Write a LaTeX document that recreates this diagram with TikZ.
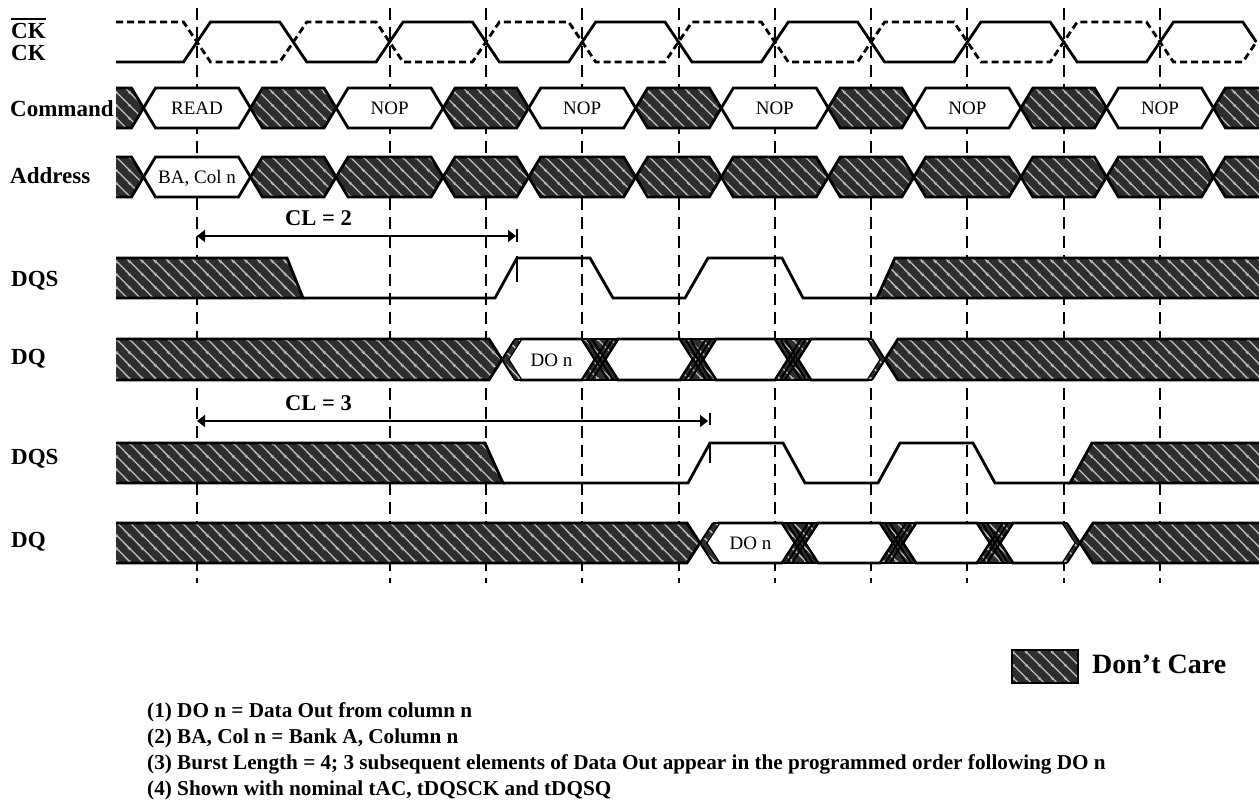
\documentclass[tikz,border=0pt]{standalone}
\usepackage{fontspec}
\setmainfont{Liberation Serif}
\usetikzlibrary{patterns.meta,arrows.meta}

\tikzdeclarepattern{
  name=dcare,
  type=colored,
  bounding box={(0pt,0pt) and (13pt,13pt)},
  tile size={(13pt,13pt)},
  code={
    \fill[black!82] (-1pt,-1pt) rectangle (14pt,14pt);
    \draw[black!25, line width=1.4pt] (-1pt,14pt) -- (14pt,-1pt);
    \draw[black!25, line width=1.4pt] (-2pt,2pt) -- (2pt,-2pt);
    \draw[black!25, line width=1.4pt] (11pt,15pt) -- (15pt,11pt);
  }
}

% hexagonal bus cell: style, left point, right point, top, bottom, slant
\newcommand\hexcell[6]{%
  \path[#1] (#2,{(#4+#5)/2}) -- ({#2+#6},#4) -- ({#3-#6},#4) -- (#3,{(#4+#5)/2})
    -- ({#3-#6},#5) -- ({#2+#6},#5) -- cycle;}
% skewed middle transition group: X, top, bottom
\newcommand\midgrp[3]{%
  \path[pattern=dcare] ({#1-13},#2) -- ({#1+23},#2) -- ({#1+10},{(#2+#3)/2}) -- ({#1+23},#3)
    -- ({#1-13},#3) -- (#1,{(#2+#3)/2}) -- cycle;
  \draw[sig] ({#1-13},#2) -- ({#1+23},#2) ({#1-13},#3) -- ({#1+23},#3);
  \foreach \o in {0,5,10} {\draw[thinsig] ({#1+\o-13},#2) -- ({#1+\o+13},#3) ({#1+\o-13},#3) -- ({#1+\o+13},#2);}}
% first transition group (hatched -> data): X, top, bottom
\newcommand\firstgrp[3]{%
  \path[hatch] (116,#2) -- ({#1-13},#2) -- (#1,{(#2+#3)/2}) -- ({#1-13},#3) -- (116,#3);
  \path[pattern=dcare] ({#1+13},#2) -- ({#1+19},#2) -- ({#1+6},{(#2+#3)/2}) -- ({#1+19},#3)
    -- ({#1+13},#3) -- (#1,{(#2+#3)/2}) -- cycle;
  \draw[thinsig] ({#1+13},#2) -- (#1,{(#2+#3)/2}) -- ({#1+13},#3);
  \draw[sig] ({#1+13},#2) -- ({#1+19},#2) ({#1+13},#3) -- ({#1+19},#3);}
% last transition group (data -> hatched): X, top, bottom
\newcommand\lastgrp[3]{%
  \path[hatch] (1265,#2) -- ({#1+17},#2) -- ({#1+4},{(#2+#3)/2}) -- ({#1+17},#3) -- (1265,#3);
  \path[pattern=dcare] ({#1-13},#2) -- ({#1-9},#2) -- ({#1+4},{(#2+#3)/2}) -- ({#1-9},#3)
    -- ({#1-13},#3) -- (#1,{(#2+#3)/2}) -- cycle;
  \draw[thinsig] ({#1-9},#2) -- ({#1+4},{(#2+#3)/2}) -- ({#1-9},#3);
  \draw[sig] ({#1-13},#2) -- ({#1-9},#2) ({#1-13},#3) -- ({#1-9},#3);}

\begin{document}
\begin{tikzpicture}[x=1pt,y=-1pt,
  sig/.style={line width=2.8pt},
  thinsig/.style={line width=2pt},
  hatch/.style={pattern=dcare, draw=black, line width=2.8pt},
  valid/.style={fill=white, draw=black, line width=2.8pt},
  vline/.style={line width=2pt, dash pattern=on 12pt off 7pt},
  lbl/.style={font=\fontsize{23}{27}\selectfont\bfseries, anchor=base west, inner sep=0pt},
  intext/.style={font=\fontsize{19}{22}\selectfont, anchor=base, inner sep=0pt},
  note/.style={font=\fontsize{21.2}{25}\selectfont\bfseries, anchor=base west, inner sep=0pt},
  cltext/.style={font=\fontsize{22.5}{26}\selectfont\bfseries, anchor=base, inner sep=0pt},
  clarrow/.style={line width=2pt, {Triangle[length=8pt,width=12pt]}-{Triangle[length=8pt,width=12pt]}},
]
\fill[white] (0,0) rectangle (1259,807);
\useasboundingbox (0,0) rectangle (1259,807);

% clock reference lines
\foreach \x in {197,389.6,485.9,582.2,678.5,774.8,871.1,967.4,1063.7,1160}
  \draw[vline] (\x,8) -- (\x,583);

% labels
\node[lbl] (lckb) at (11,38) {CK};
\draw[line width=2pt] ([yshift=4pt]lckb.north west) -- ([yshift=4pt]lckb.north east);
\node[lbl] (lck) at (11,60) {CK};
\node[lbl] (lcmd) at (10,116) {Command};
\node[lbl] (ladr) at (10,183) {Address};
\node[lbl] (ldqs1) at (11,286) {DQS};
\node[lbl] (ldq1) at (11,364) {DQ};
\node[lbl] (ldqs2) at (11,464) {DQS};
\node[lbl] (ldq2) at (11,547) {DQ};

% clocks
\draw[sig] (116,62) \foreach \k in {0,...,4}{ -- ({183.5+192.6*\k},62) -- ({210.5+192.6*\k},22)
   -- ({279.8+192.6*\k},22) -- ({306.8+192.6*\k},62) } -- (1146.5,62) -- (1173.5,22) -- (1242.8,22) -- (1256.3,42);
\draw[sig, dash pattern=on 7pt off 4pt] (116,22) \foreach \k in {0,...,4}{ -- ({183.5+192.6*\k},22) -- ({210.5+192.6*\k},62)
   -- ({279.8+192.6*\k},62) -- ({306.8+192.6*\k},22) } -- (1146.5,22) -- (1173.5,62) -- (1242.8,62) -- (1256.3,42);

% command bus
\path[hatch] (116,88) -- (131.5,88) -- (143.5,108) -- (131.5,128) -- (116,128);
\hexcell{valid}{143.5}{250.5}{88}{128}{12}
\hexcell{hatch}{250.5}{336.1}{88}{128}{12}
\hexcell{valid}{336.1}{443.1}{88}{128}{12}
\hexcell{hatch}{443.1}{528.7}{88}{128}{12}
\hexcell{valid}{528.7}{635.7}{88}{128}{12}
\hexcell{hatch}{635.7}{721.3}{88}{128}{12}
\hexcell{valid}{721.3}{828.3}{88}{128}{12}
\hexcell{hatch}{828.3}{913.9}{88}{128}{12}
\hexcell{valid}{913.9}{1020.9}{88}{128}{12}
\hexcell{hatch}{1020.9}{1106.5}{88}{128}{12}
\hexcell{valid}{1106.5}{1213.5}{88}{128}{12}
\path[hatch] (1265,88) -- (1225.5,88) -- (1213.5,108) -- (1225.5,128) -- (1265,128);
\node[intext] (c0) at (197,114.5) {READ};
\node[intext] (c1) at (389.6,114.5) {NOP};
\node[intext] (c2) at (582.2,114.5) {NOP};
\node[intext] (c3) at (774.8,114.5) {NOP};
\node[intext] (c4) at (967.4,114.5) {NOP};
\node[intext] (c5) at (1160,114.5) {NOP};

% address bus
\path[hatch] (116,157) -- (131.5,157) -- (143.5,177) -- (131.5,197) -- (116,197);
\hexcell{valid}{143.5}{250.5}{157}{197}{12}
\foreach \a/\b in {250.5/336.1,336.1/443.1,443.1/528.7,528.7/635.7,635.7/721.3,721.3/828.3,
   828.3/913.9,913.9/1020.9,1020.9/1106.5,1106.5/1213.5}
  {\hexcell{hatch}{\a}{\b}{157}{197}{12}}
\path[hatch] (1265,157) -- (1225.5,157) -- (1213.5,177) -- (1225.5,197) -- (1265,197);
\node[intext] (a0) at (197,183.5) {BA, Col n};

% CL = 2
\node[cltext] (cl2) at (318.5,225) {CL = 2};
\coordinate (cl2a) at (197,236);
\coordinate (cl2b) at (516,236);
\draw[clarrow] (cl2a) -- (cl2b);
\draw[line width=2pt, dash pattern=on 13pt off 14pt on 26pt off 100pt] (517,229) -- (517,283);

% DQS (CL=2)
\path[hatch] (116,258) -- (287,258) -- (303,298) -- (116,298);
\draw[sig] (303,298) -- (495,298) -- (517,258) -- (590,258) -- (613,298) -- (685,298) -- (708,258)
  -- (782,258) -- (803,298) -- (877,298);
\path[hatch] (1265,258) -- (895,258) -- (877,298) -- (1265,298);

% DQ (CL=2)
\hexcell{valid}{508}{595}{339}{380}{13}
\hexcell{valid}{605}{693}{339}{380}{13}
\hexcell{valid}{703}{788}{339}{380}{13}
\hexcell{valid}{798}{881}{339}{380}{13}
\firstgrp{502}{339}{380}
\midgrp{595}{339}{380}
\midgrp{693}{339}{380}
\midgrp{788}{339}{380}
\lastgrp{881}{339}{380}
\node[intext] (d1) at (551.5,366) {DO n};

% CL = 3
\node[cltext] (cl3) at (318.5,410) {CL = 3};
\coordinate (cl3a) at (197,421);
\coordinate (cl3b) at (708,421);
\draw[clarrow] (cl3a) -- (cl3b);
\draw[line width=2pt, dash pattern=on 12pt off 18pt on 20pt off 100pt] (710,413) -- (710,463);

% DQS (CL=3)
\path[hatch] (116,443) -- (485,443) -- (503,483) -- (116,483);
\draw[sig] (503,483) -- (688,483) -- (710,443) -- (783,443) -- (805,483) -- (878,483) -- (900,443)
  -- (973,443) -- (995,483) -- (1070,483);
\path[hatch] (1265,443) -- (1092,443) -- (1070,483) -- (1265,483);

% DQ (CL=3)
\hexcell{valid}{706}{795}{523}{563}{13}
\hexcell{valid}{805}{893}{523}{563}{13}
\hexcell{valid}{903}{990}{523}{563}{13}
\hexcell{valid}{1000}{1076}{523}{563}{13}
\firstgrp{700}{523}{563}
\midgrp{795}{523}{563}
\midgrp{893}{523}{563}
\midgrp{990}{523}{563}
\lastgrp{1076}{523}{563}
\node[intext] (d2) at (750.5,549.5) {DO n};

% legend
\path[hatch] (1012,650) rectangle (1078,683);
\node[font=\fontsize{28}{32}\selectfont\bfseries, anchor=base west, inner sep=0pt] (leg) at (1092,673) {Don’t Care};

% notes
\node[note] (n1) at (147,717) {(1) DO n = Data Out from column n};
\node[note] (n2) at (147,743) {(2) BA, Col n = Bank A, Column n};
\node[note] (n3) at (147,769.5) {(3) Burst Length = 4; 3 subsequent elements of Data Out appear in the programmed order following DO n};
\node[note] (n4) at (147,795.5) {(4) Shown with nominal tAC, tDQSCK and tDQSQ};
\end{tikzpicture}
\end{document}
